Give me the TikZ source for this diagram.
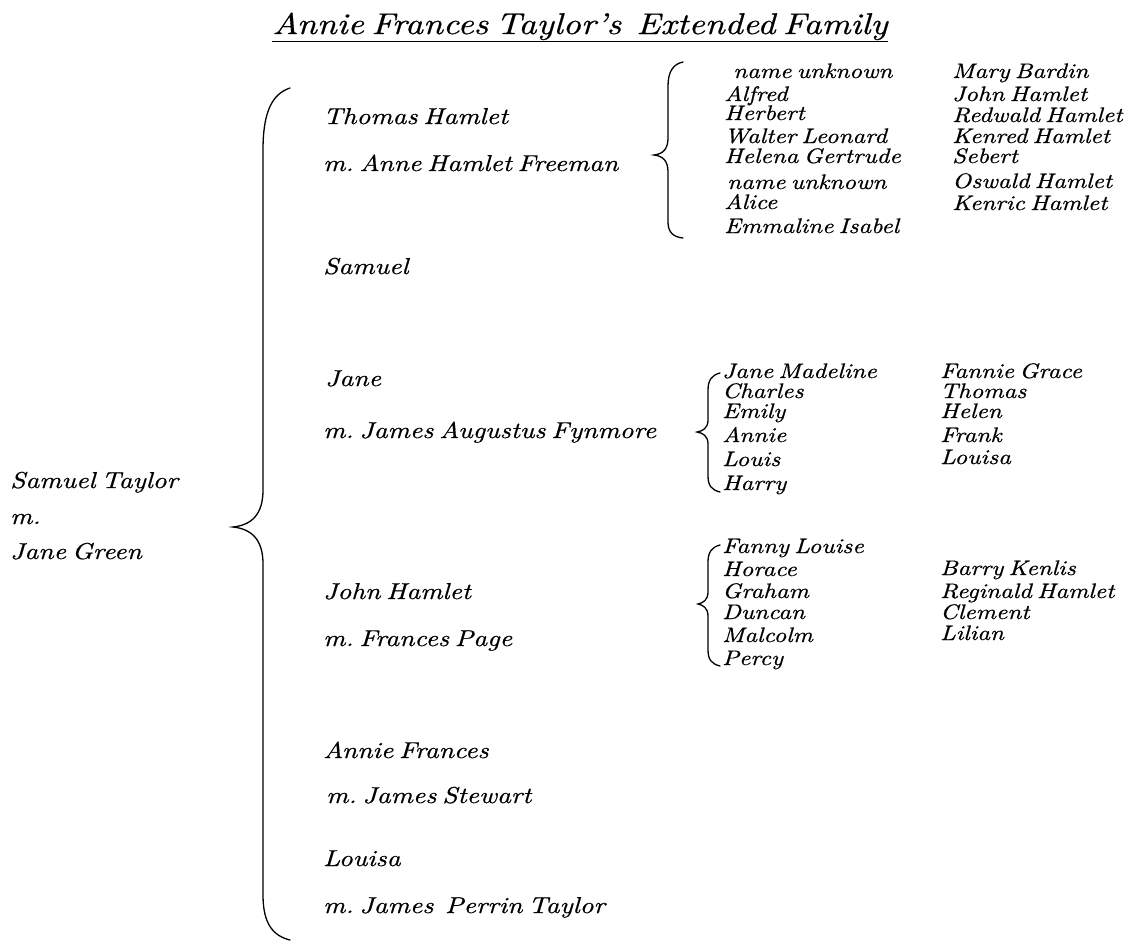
\documentclass[tikz,border=0pt]{standalone}
\usepackage{fontspec}
\setmainfont{lmroman10-regular.otf}[ItalicFont=lmroman10-italic.otf,FakeStretch=1.18,FakeBold=0.6,WordSpace=0.6]
\usetikzlibrary{calc}
\begin{document}
\frenchspacing
\begin{tikzpicture}[x=1pt,y=-1pt,
  every node/.style={inner sep=0pt, anchor=base west},
  main/.style={font=\fontsize{23}{26}\selectfont\itshape},
  kid/.style={font=\fontsize{21}{22}\selectfont\itshape},
  ttl/.style={font=\fontsize{30}{32}\selectfont\itshape},
  brace/.style={line width=1.3pt, line cap=round},
]
\useasboundingbox (0,0) rectangle (1142,943);
% title
\node[ttl, anchor=base] (title) at (580,34) {Annie Frances Taylor's\ \ Extended Family};
\draw[line width=1pt] ([yshift=-7pt]title.base west) -- ([yshift=-7pt]title.base east);
% parents
\node[main] (p1) at (10,488) {Samuel Taylor};
\node[main] (p2) at (10,524) {m.};
\node[main] (p3) at (10,559) {Jane Green};
% big brace
\coordinate (bt) at (290,88);
\coordinate (bm) at (233,527);
\coordinate (bb) at (290,940);
\draw[brace] (bt) .. controls (272,94) and (263,112) .. (263,150) -- (263,490)
  .. controls (263,514) and (252,525) .. (bm)
  .. controls (252,529) and (263,540) .. (263,564) -- (263,895)
  .. controls (263,925) and (274,936) .. (bb);
% children
\node[main] (c1) at (323,124) {Thomas Hamlet};
\node[main] (c1m) at (323,171) {m. Anne Hamlet Freeman};
\node[main] (c2) at (323,274) {Samuel};
\node[main] (c3) at (325,386) {Jane};
\node[main] (c3m) at (323,438) {m. James Augustus Fynmore};
\node[main] (c4) at (323,599) {John Hamlet};
\node[main] (c4m) at (323,646) {m. Frances Page};
\node[main] (c5) at (323,758) {Annie Frances};
\node[main] (c5m) at (326,803) {m. James Stewart};
\node[main] (c6) at (323,866) {Louisa};
\node[main] (c6m) at (323,913) {m. James\ \ Perrin Taylor};
% brace 1
\coordinate (t1) at (683,62);
\coordinate (m1) at (654,155);
\coordinate (b1) at (683,238);
\draw[brace] (t1) .. controls (673,64) and (668,72) .. (668,86) -- (668,138)
  .. controls (668,149) and (663,154) .. (m1)
  .. controls (663,156) and (668,161) .. (668,172) -- (668,222)
  .. controls (668,232) and (673,237) .. (b1);
% brace 2
\coordinate (t2) at (720,373);
\coordinate (m2) at (697,432);
\coordinate (b2) at (720,492);
\draw[brace] (t2) .. controls (712,375) and (708,380) .. (708,390) -- (708,420)
  .. controls (708,428) and (703,431) .. (m2)
  .. controls (703,433) and (708,436) .. (708,444) -- (708,476)
  .. controls (708,486) and (712,490) .. (b2);
% brace 3
\coordinate (t3) at (720,545);
\coordinate (m3) at (698,604);
\coordinate (b3) at (720,666);
\draw[brace] (t3) .. controls (712,547) and (708,552) .. (708,562) -- (708,592)
  .. controls (708,600) and (703,603) .. (m3)
  .. controls (703,605) and (708,608) .. (708,616) -- (708,650)
  .. controls (708,660) and (712,664) .. (b3);
% grandchildren, Thomas
\foreach \t/\x/\y [count=\i] in {name unknown/733/78, Alfred/724/101, Herbert/724/120,
  Walter Leonard/724/143, Helena Gertrude/724/163, name unknown/727/189,
  Alice/724/209, Emmaline Isabel/724/233}
  \node[kid] (ga\i) at (\x,\y) {\t};
\foreach \t/\y [count=\i] in {Mary Bardin/78, John Hamlet/101, Redwald Hamlet/122,
  Kenred Hamlet/143, Sebert/163, Oswald Hamlet/188, Kenric Hamlet/210}
  \node[kid] (gb\i) at (952,\y) {\t};
% grandchildren, Jane
\foreach \t/\y [count=\i] in {Jane Madeline/378, Charles/398, Emily/418,
  Annie/442, Louis/466, Harry/490}
  \node[kid] (gc\i) at (722,\y) {\t};
\foreach \t/\y [count=\i] in {Fannie Grace/378, Thomas/398, Helen/418,
  Frank/442, Louisa/464}
  \node[kid] (gd\i) at (940,\y) {\t};
% grandchildren, John
\foreach \t/\y [count=\i] in {Fanny Louise/553, Horace/576, Graham/598,
  Duncan/619, Malcolm/642, Percy/665}
  \node[kid] (ge\i) at (722,\y) {\t};
\foreach \t/\y [count=\i] in {Barry Kenlis/575, Reginald Hamlet/598,
  Clement/619, Lilian/640}
  \node[kid] (gf\i) at (940,\y) {\t};
\end{tikzpicture}
\end{document}
